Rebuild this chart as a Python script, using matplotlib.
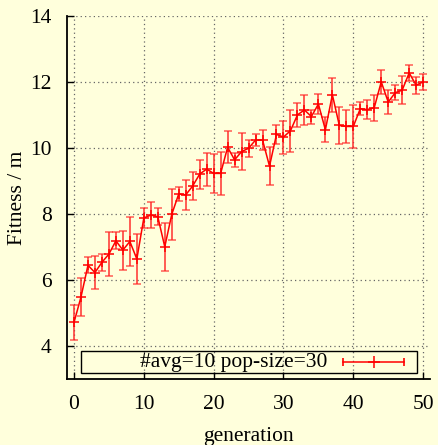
import matplotlib
matplotlib.use("Agg")
import matplotlib.pyplot as plt
from matplotlib.patches import Rectangle

generation = list(range(51))
fitness = [4.72, 5.49, 6.45, 6.23, 6.54, 6.79, 7.19, 6.91, 7.17, 6.64,
           7.88, 7.97, 7.92, 7.01, 7.99, 8.61, 8.58, 8.85, 9.21, 9.36,
           9.23, 9.23, 10.02, 9.64, 9.89, 9.99, 10.24, 10.24, 9.45, 10.41,
           10.33, 10.52, 11.00, 11.15, 10.95, 11.33, 10.55, 11.61, 10.68, 10.65,
           10.65, 11.19, 11.16, 11.22, 12.00, 11.39, 11.67, 11.75, 12.27, 11.90,
           12.00]
error = [0.52, 0.57, 0.24, 0.50, 0.26, 0.67, 0.26, 0.59, 0.75, 0.76,
         0.29, 0.39, 0.25, 0.72, 0.78, 0.20, 0.46, 0.41, 0.44, 0.50,
         0.60, 0.64, 0.49, 0.21, 0.57, 0.25, 0.18, 0.29, 0.57, 0.29,
         0.50, 0.64, 0.37, 0.46, 0.21, 0.30, 0.38, 0.51, 0.56, 0.50,
         0.66, 0.19, 0.28, 0.39, 0.36, 0.35, 0.23, 0.43, 0.23, 0.26,
         0.25]
legend_label = "#avg=10 pop-size=30"
xticks = [0, 10, 20, 30, 40, 50]
yticks = [4, 6, 8, 10, 12, 14]

bg = "#ffffdc"
fs = 15.5
plt.rcParams['font.family'] = ['Liberation Serif', 'DejaVu Serif']
fig = plt.figure(figsize=(4.38, 4.45), dpi=100, facecolor=bg)
ax = fig.add_axes([0.153, 0.1476, 0.829, 0.817])
ax.set_facecolor(bg)

ax.errorbar(generation, fitness, yerr=error, color='red', lw=1.1,
            ecolor=(1, 0.15, 0.15, 0.75), elinewidth=1.4, capsize=3, capthick=1.4,
            marker='+', markersize=7, mew=1.1, zorder=3)

ax.set_xlim(-1, 51)
ax.set_ylim(3, 14)
ax.set_xticks(xticks)
ax.set_yticks(yticks)
ax.grid(True, color='0.4', linestyle=(0, (1, 2.5)), lw=0.9)
for s in ['top', 'right']:
    ax.spines[s].set_visible(False)
for s in ['left', 'bottom']:
    ax.spines[s].set_linewidth(1.3)
ax.tick_params(direction='in', length=5, width=1, labelsize=fs, pad=11)
ax.set_xlabel('generation', fontsize=fs, labelpad=10)
ax.set_ylabel('Fitness / m', fontsize=fs, labelpad=2.5)

# legend box (gnuplot style)
ax.add_patch(Rectangle((0.0386, 0.0173), 0.9254, 0.0605, transform=ax.transAxes,
                       facecolor='none', edgecolor='black', lw=1.0, zorder=4))
ax.text(0.46, 0.0475, legend_label, transform=ax.transAxes, ha='center',
        va='center', fontsize=fs, zorder=5)
ax.plot([0.76, 0.927], [0.0475, 0.0475], transform=ax.transAxes, color='red',
        lw=1.1, clip_on=False, zorder=5)
ax.plot([0.76, 0.927], [0.0475, 0.0475], transform=ax.transAxes, color='red',
        lw=0, marker='|', markersize=6, mew=1.2, clip_on=False, zorder=5)
ax.plot([0.845], [0.0475], transform=ax.transAxes, color='red',
        marker='+', markersize=8, mew=1.1, clip_on=False, zorder=5)

fig.savefig('out.png', dpi=100, facecolor=bg)
